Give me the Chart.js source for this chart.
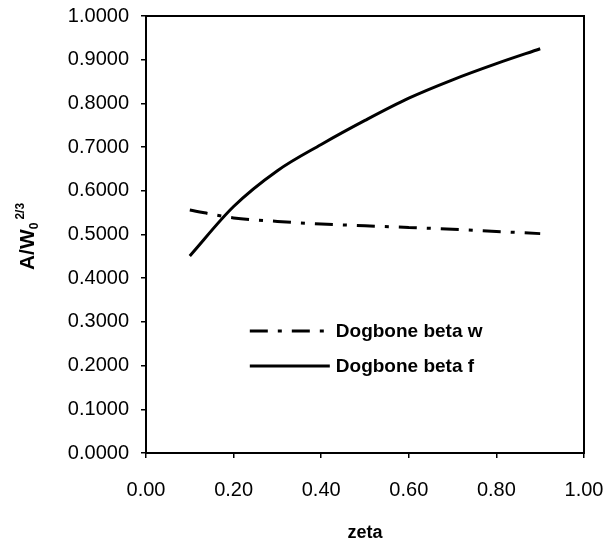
<!DOCTYPE html>
<html><head><meta charset="utf-8">
<script src="https://cdn.jsdelivr.net/npm/chart.js@4/dist/chart.umd.min.js"></script>
<style>html,body{margin:0;padding:0;background:#fff}#wrap{width:604px;height:542px}</style>
</head><body><div id="wrap"><canvas id="c" width="604" height="542"></canvas></div>
<script>
const zeta = [0.1, 0.2, 0.3, 0.4, 0.5, 0.6, 0.7, 0.8, 0.9];
const betaW = [0.556, 0.538, 0.530, 0.524, 0.520, 0.516, 0.512, 0.507, 0.502];
const betaF = [0.451, 0.564, 0.646, 0.706, 0.761, 0.812, 0.854, 0.891, 0.925];
const seriesNames = ['Dogbone beta w', 'Dogbone beta f'];
const xTickLabels = ['0.00', '0.20', '0.40', '0.60', '0.80', '1.00'];
const yTickLabels = ['0.0000', '0.1000', '0.2000', '0.3000', '0.4000', '0.5000', '0.6000', '0.7000', '0.8000', '0.9000', '1.0000'];
const xTitle = 'zeta';
const yTitleMain = 'A/W', yTitleSub = '0', yTitleSup = '2/3';

const FONT = "'Liberation Sans', Arial, sans-serif";
Chart.defaults.font.family = FONT;
Chart.defaults.color = '#000';

const dashW = [18, 10, 4, 10];

const framePlugin = {
  id: 'frame',
  afterDraw(chart) {
    const {ctx, chartArea: a} = chart;
    ctx.save();
    ctx.strokeStyle = '#000';
    ctx.lineWidth = 2;
    ctx.strokeRect(a.left, a.top, a.right - a.left, a.bottom - a.top);

    // legend
    const w = a.right - a.left, h = a.bottom - a.top;
    const sx = a.left + 0.237 * w, ex = sx + 80;
    const rows = [a.top + 0.721 * h, a.top + 0.801 * h];
    chart.data.datasets.forEach((ds, i) => {
      ctx.beginPath();
      ctx.lineWidth = ds.borderWidth;
      ctx.setLineDash(ds.borderDash || []);
      ctx.lineDashOffset = 0;
      ctx.moveTo(sx, rows[i]);
      ctx.lineTo(ex, rows[i]);
      ctx.stroke();
      ctx.setLineDash([]);
      ctx.fillStyle = '#000';
      ctx.font = 'bold 19px ' + FONT;
      ctx.textAlign = 'left';
      ctx.textBaseline = 'middle';
      ctx.fillText(ds.label, ex + 6, rows[i] + 1);
    });

    // y title with subscript / superscript
    const cy = (a.top + a.bottom) / 2 + 2;
    const mainF = 'bold 21px ' + FONT, subF = 'bold 12px ' + FONT, supF = 'bold 12px ' + FONT;
    ctx.font = mainF; const wm = ctx.measureText(yTitleMain).width;
    ctx.font = subF; const ws = ctx.measureText(yTitleSub).width;
    ctx.font = supF; const wp = ctx.measureText(yTitleSup).width;
    const total = wm + ws + 3 + wp;
    ctx.translate(34, cy + total / 2);
    ctx.rotate(-Math.PI / 2);
    ctx.textAlign = 'left';
    ctx.textBaseline = 'alphabetic';
    ctx.font = mainF; ctx.fillText(yTitleMain, 0, 0);
    ctx.font = subF; ctx.fillText(yTitleSub, wm, 4);
    ctx.font = supF; ctx.fillText(yTitleSup, wm + ws + 3, -10);
    ctx.restore();
  }
};

new Chart(document.getElementById('c'), {
  type: 'line',
  data: {
    datasets: [
      {
        label: seriesNames[0],
        data: zeta.map((x, i) => ({x, y: betaW[i]})),
        borderColor: '#000', borderWidth: 3, borderDash: dashW,
        pointRadius: 0, fill: false, cubicInterpolationMode: 'monotone'
      },
      {
        label: seriesNames[1],
        data: zeta.map((x, i) => ({x, y: betaF[i]})),
        borderColor: '#000', borderWidth: 3,
        pointRadius: 0, fill: false, cubicInterpolationMode: 'monotone'
      }
    ]
  },
  options: {
    responsive: false, animation: false, devicePixelRatio: 1,
    layout: {padding: {top: 16, right: 20, left: 0, bottom: 0}},
    plugins: {legend: {display: false}, tooltip: {enabled: false}},
    scales: {
      x: {
        type: 'linear', min: 0, max: 1,
        afterFit: s => { s.height = 89; s.paddingLeft = 0; s.paddingRight = 0; },
        ticks: {stepSize: 0.2, padding: 20, maxRotation: 0, autoSkip: false,
          font: {size: 20}, color: '#000',
          callback: (v, i) => xTickLabels[i]},
        grid: {display: true, drawOnChartArea: false, drawTicks: true, tickLength: 5, color: '#000', lineWidth: 1.5},
        border: {display: true, color: '#000', width: 2},
        title: {display: true, text: xTitle, font: {size: 18, weight: 'bold', lineHeight: 1}, color: '#000', padding: {top: 0, bottom: 0}}
      },
      y: {
        type: 'linear', min: 0, max: 1,
        afterFit: s => { s.width = 146; s.paddingTop = 0; s.paddingBottom = 0; },
        ticks: {stepSize: 0.1, padding: 12, autoSkip: false,
          font: {size: 20}, color: '#000',
          callback: (v, i) => yTickLabels[i]},
        grid: {display: true, drawOnChartArea: false, drawTicks: true, tickLength: 5, color: '#000', lineWidth: 1.5},
        border: {display: true, color: '#000', width: 2}
      }
    }
  },
  plugins: [framePlugin]
});
</script>
</body></html>
